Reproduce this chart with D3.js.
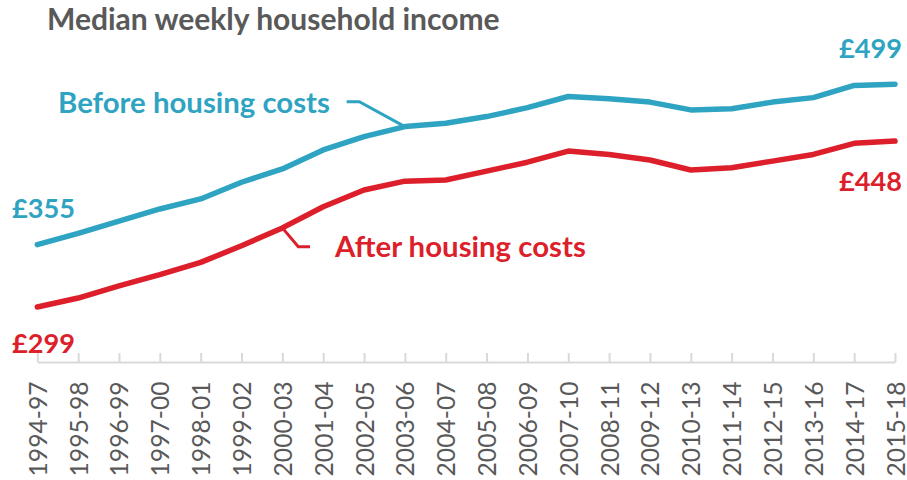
<!DOCTYPE html>
<html><head><meta charset="utf-8">
<script src="https://cdn.jsdelivr.net/npm/d3@7"></script>
<style>html,body{margin:0;padding:0;background:#fff;}svg{display:block;}</style>
</head><body>
<svg id="chart" width="907" height="480"></svg>
<script>
const categories = ["1994-97","1995-98","1996-99","1997-00","1998-01","1999-02","2000-03","2001-04","2002-05","2003-06","2004-07","2005-08","2006-09","2007-10","2008-11","2009-12","2010-13","2011-14","2012-15","2013-16","2014-17","2015-18"];
const beforeHousing = [355,365,376,387,396,411,423,440,452,461,464,470,478,488,486,483,476,477,483,487,498,499];
const afterHousing  = [299,307,318,328,339,354,370,389,404,412,413,421,429,439,436,431,422,424,430,436,446,448];
const seriesNames = ["Before housing costs","After housing costs"];
const title = "Median weekly household income";

const BLUE = "#2fa4c2", RED = "#dc1f2b", GREY = "#595959";
const FONT = "Lato, 'Open Sans', sans-serif";
const svg = d3.select("#chart");

const x = d3.scalePoint().domain(categories).range([37.3, 895]);
const y = d3.scaleLinear().domain([250, 550]).range([361.5, 27.5]);

function fit(sel, target) {
  const w = sel.node().getComputedTextLength();
  const fs = parseFloat(sel.attr("font-size"));
  sel.attr("font-size", fs * target / w);
  return sel;
}

// axis
const axisG = svg.append("g").attr("transform", "translate(0,362)");
const axis = d3.axisTop(x).tickSize(9).tickFormat("").tickSizeOuter(0);
axisG.call(axis);
axisG.select(".domain").attr("stroke", "#d9d9d9").attr("stroke-width", 2);
axisG.selectAll(".tick line").attr("stroke", "#d9d9d9").attr("stroke-width", 2);

// tick labels
const lbls = svg.append("g").selectAll("text").data(categories).join("text")
  .attr("transform", d => `translate(${x(d)},381.5) rotate(-90)`)
  .attr("text-anchor", "end").attr("dominant-baseline", "central")
  .attr("font-family", FONT).attr("font-size", 26).attr("fill", GREY)
  .text(d => d);
{
  const first = lbls.filter((d, i) => i === 0);
  const w = first.node().getComputedTextLength();
  lbls.attr("font-size", 26 * 95 / w);
}

// lines
const line = d3.line().x((d, i) => x(categories[i])).y(d => y(d));
svg.append("path").datum(beforeHousing).attr("d", line)
  .attr("fill", "none").attr("stroke", BLUE).attr("stroke-width", 5.5)
  .attr("stroke-linejoin", "round").attr("stroke-linecap", "round");
svg.append("path").datum(afterHousing).attr("d", line)
  .attr("fill", "none").attr("stroke", RED).attr("stroke-width", 5.5)
  .attr("stroke-linejoin", "round").attr("stroke-linecap", "round");

// leader lines
const bi = 9, ai = 6;
svg.append("path")
  .attr("d", `M346.7,101.7 L359.3,101.7 L${x(categories[bi])},${y(beforeHousing[bi])}`)
  .attr("fill", "none").attr("stroke", BLUE).attr("stroke-width", 3);
svg.append("path")
  .attr("d", `M${x(categories[ai])},${y(afterHousing[ai])} L298.3,246.7 L310,246.7`)
  .attr("fill", "none").attr("stroke", RED).attr("stroke-width", 3);

// title
fit(svg.append("text").attr("x", 47).attr("y", 29.5)
  .attr("font-family", FONT).attr("font-weight", "bold").attr("font-size", 26)
  .attr("fill", GREY).text(title), 453);

// series labels
fit(svg.append("text").attr("x", 58).attr("y", 113)
  .attr("font-family", FONT).attr("font-weight", "bold").attr("font-size", 28)
  .attr("fill", BLUE).text(seriesNames[0]), 272);
fit(svg.append("text").attr("x", 335).attr("y", 256.5)
  .attr("font-family", FONT).attr("font-weight", "bold").attr("font-size", 28)
  .attr("fill", RED).text(seriesNames[1]), 251);

// value labels
const fmt = v => "£" + v;
const n = categories.length - 1;
function valLabel(xp, yp, anchor, color, v) {
  return fit(svg.append("text").attr("x", xp).attr("y", yp).attr("text-anchor", anchor)
    .attr("font-family", FONT).attr("font-weight", "bold").attr("font-size", 28)
    .attr("fill", color).text(fmt(v)), 63);
}
valLabel(12, 217.5, "start", BLUE, beforeHousing[0]);
valLabel(12, 352.5, "start", RED, afterHousing[0]);
valLabel(902, 57.5, "end", BLUE, beforeHousing[n]);
valLabel(902, 190.5, "end", RED, afterHousing[n]);
</script>
</body></html>
